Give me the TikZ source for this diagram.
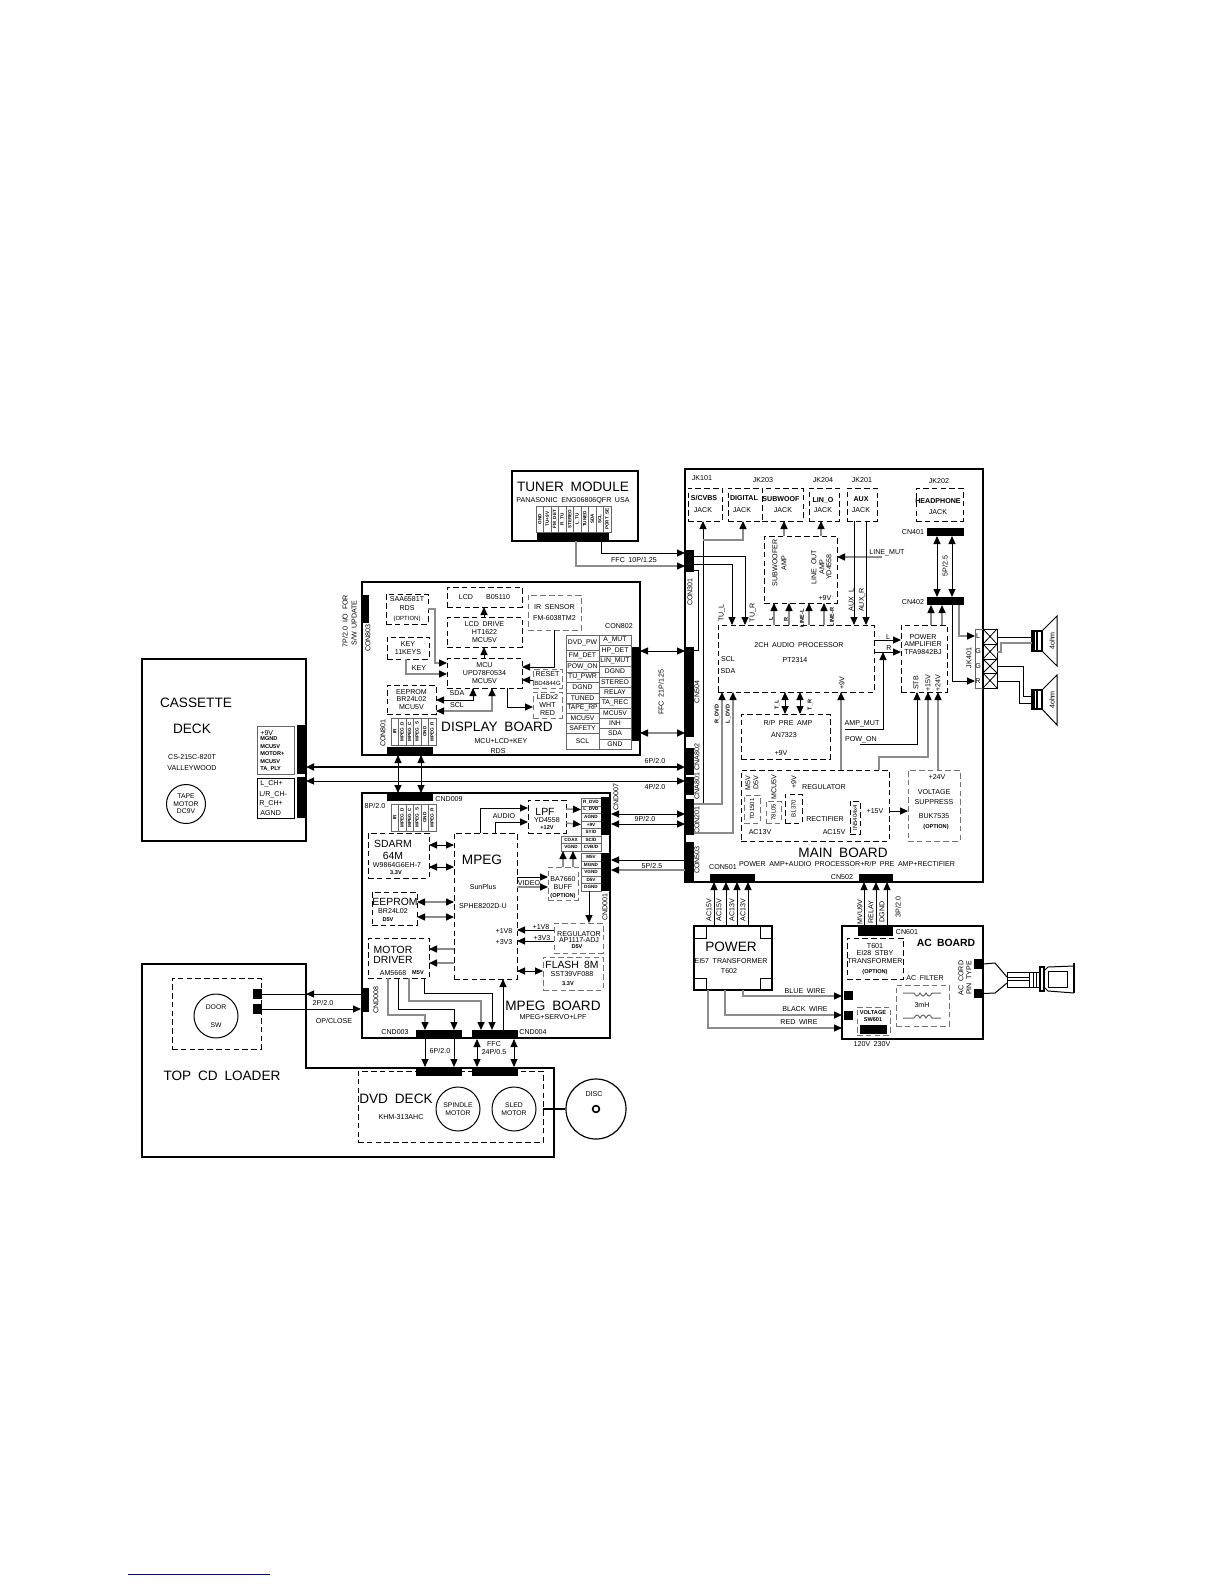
\documentclass[tikz,border=0pt]{standalone}
\usepackage{fontspec}
\setmainfont[WordSpace=1.8]{Liberation Sans}
\usetikzlibrary{arrows.meta,calc}
\newcommand{\vt}[1]{\rotatebox{90}{#1}}
\begin{document}
\begin{tikzpicture}[
  x=0.5pt, y=-0.5pt, >={Triangle[length=4pt,width=3.5pt,color=black]},
  area/.style args={#1,#2,#3,#4}{at={({(#1+#3)/2},{(#2+#4)/2})}, minimum width={(#3-#1)*0.5pt}, minimum height={(#4-#2)*0.5pt}, inner sep=0pt, outer sep=0pt},
  brd/.style={draw, line width=0.8pt},
  db/.style={draw, dashed, dash pattern=on 2.8pt off 1.6pt, line width=0.45pt, align=center, font=\fontsize{3.55}{3.8}\selectfont},
  gb/.style={db, draw=black!55},
  bar/.style={fill=black, draw=none},
  cell/.style={draw=black!60, line width=0.5pt, font=\fontsize{3.4}{3.5}\selectfont},
  pin/.style={cell, font=\fontsize{2.3}{2.3}\bfseries\selectfont},
  wire/.style={line width=0.5pt},
  gw/.style={line width=0.75pt, draw=black!45},
  bus/.style={line width=1pt},
  t/.style={inner sep=0pt, align=center, font=\fontsize{3.55}{3.8}\selectfont},
  ts/.style={inner sep=0pt, align=center, font=\fontsize{2.8}{3}\bfseries\selectfont},
  tm/.style={inner sep=0pt, align=center, font=\fontsize{5.2}{6}\selectfont},
  tl/.style={inner sep=0pt, align=center, font=\fontsize{6.8}{8}\selectfont},
  vt/.style={rotate=90},
  motor/.style={draw, circle, line width=0.5pt, inner sep=0pt, align=center, font=\fontsize{3.4}{3.8}\selectfont},
]
\useasboundingbox (0,0) rectangle (1224,1584);
\draw[blue!70!black, line width=0.5pt] (128,1574) -- (270,1574);
% boards
\node[brd, area={142,659,306,841}] (cassette) {};
\node[brd, area={362,582,640,755}] (display) {};
\node[brd, area={362,793,610,1038}] (mpegbd) {};
\node[brd, line width=1pt, area={512,471,638,541}] (tuner) {};
\node[brd, area={685,469,983,882}] (mainbd) {};
\node[brd, area={694,926,772,990}] (power) {};
\node[brd, area={842,926,983,1039}] (acbd) {};
\draw[brd] (142,964) -- (306,964) -- (306,1068) -- (554,1068) -- (554,1157) -- (142,1157) -- cycle;
\draw[line width=1.2pt] (mainbd.north west) -- (mainbd.north east);
% cassette deck
\node[tl] (lcass) at (196,703) {CASSETTE};
\node[tl] (ldeck) at (192,729) {DECK};
\node[t] (lcs) at (192,757) {CS-215C-820T};
\node[t] (lvw) at (192,768) {VALLEYWOOD};
\node[motor, minimum size=19.5pt] (tape) at (186,804) {TAPE\\MOTOR\\DC9V};
\node[bar, area={297,725,306,774}] (cassa) {};
\node[bar, area={297,777,306,818}] (cassb) {};
\node[draw=black!60, line width=0.4pt, area={257,726,294,774}] (cassta) {};
\node[draw, line width=0.4pt, area={257,778,294,818}] (casstb) {};
\node[t, anchor=west] (la1) at (260,733) {+9V};
\node[ts, anchor=west] (la2) at (260,739) {MGND};
\node[ts, anchor=west] (la3) at (260,747) {MCU5V};
\node[ts, anchor=west] (la4) at (260,754) {MOTOR+};
\node[ts, anchor=west] (la5) at (260,762) {MCU5V};
\node[ts, anchor=west] (la6) at (260,769) {TA\_PLY};
\node[t, anchor=west] (lb1) at (260,784) {L\_CH+};
\node[t, anchor=west] (lb2) at (259,795) {L/R\_CH-};
\node[t, anchor=west] (lb3) at (259,804) {R\_CH+};
\node[t, anchor=west] (lb4) at (260,813) {AGND};
% display board
\node[bar, area={362,595,369,623}] (con803) {};
\node[t, vt] (lc803) at (368,638) {CON803};
\node[t, vt] (l7p) at (345,621) {7P/2.0 I/O FOR};
\node[t, vt] (lsw) at (354,623) {S/W UPDATE};
\node[db, area={447,587,522,607}] (lcd) {LCD\hspace{2.3mm}B05110};
\node[db, area={447,617,522,647}] (lcddrv) {LCD DRIVE\\HT1622\\MCU5V};
\node[db, area={447,658,522,688}] (mcu) {MCU\\UPD78F0534\\MCU5V};
\node[db, area={386,594,428,624}] (saa) {SAA6581T\\[1pt]RDS\\[1pt]{\fontsize{3}{3}\selectfont (OPTION)}};
\node[db, area={387,637,429,659}] (keyb) {KEY\\11KEYS};
\node[db, area={387,685,436,714}] (eeprom) {EEPROM\\BR24L02\\MCU5V};
\node[gb, area={528,595,581,630}] (irs) {IR SENSOR\\[2pt]FM-6038TM2};
\node[gb, area={533,669,562,688}] (reset) {RESET\\[1pt]{\fontsize{3}{3}\selectfont BD4844G}};
\node[gb, area={533,692,562,718}] (led) {LEDx2\\WHT\\RED};
\node[t] (lkey) at (419,668) {KEY};
\node[t] (lsda) at (457,693) {SDA};
\node[t] (lscl) at (457,705) {SCL};
\draw[wire,->] (lcddrv.north -| 484,0) -- (lcd.south -| 484,0);
\draw[wire,->] (mcu.north -| 484,0) -- (lcddrv.south -| 484,0);
\draw[gw,->] (saa.east) -- ++(7,0) |- (mcu.west |- 0,663);
\draw[gw,->] (keyb.south -| 406,0) |- (mcu.west |- 0,674);
\draw[wire,<->] (eeprom.east |- 0,700) -| (mcu.south -| 473,0);
\draw[gw,<->] (eeprom.east |- 0,711) -| (mcu.south -| 492,0);
\draw[wire,->] (mcu.south -| 507,0) |- (led.west |- 0,707);
\draw[wire,->] (irs.south -| 554,0) |- (mcu.east |- 0,667);
\draw[wire,->] (reset.west |- 0,680) -- (mcu.east |- 0,680);
\node[t] (lc802) at (619,626) {CON802};
\node[cell, area={566,635,599,650}] (p1) {DVD\_PW};
\node[cell, area={566,650,599,661}] (p2) {FM\_DET};
\node[cell, area={566,661,599,672}] (p3) {POW\_ON};
\node[cell, area={566,672,599,682}] (p4) {TU\_PWR};
\node[cell, area={566,682,599,693}] (p5) {DGND};
\node[cell, area={566,693,599,703}] (p6) {TUNED};
\node[cell, area={566,703,599,713}] (p7) {TAPE\_RP};
\node[cell, area={566,713,599,723}] (p8) {MCU5V};
\node[cell, area={566,723,599,733}] (p9) {SAFETY};
\node[cell, area={566,733,599,749}] (p10) {SCL};
\node[cell, area={599,635,631,645}] (q1) {A\_MUT};
\node[cell, area={599,645,631,656}] (q2) {HP\_DET};
\node[cell, area={599,656,631,666}] (q3) {LIN\_MUT};
\node[cell, area={599,666,631,677}] (q4) {DGND};
\node[cell, area={599,677,631,687}] (q5) {STEREO};
\node[cell, area={599,687,631,697}] (q6) {RELAY};
\node[cell, area={599,697,631,708}] (q7) {TA\_REC};
\node[cell, area={599,708,631,718}] (q8) {MCU5V};
\node[cell, area={599,718,631,728}] (q9) {INH};
\node[cell, area={599,728,631,739}] (q10) {SDA};
\node[cell, area={599,739,631,749}] (q11) {GND};
\node[bar, area={632,647,640,741}] (con802) {};
\node[t, vt] (lffc21) at (661,692) {FFC 21P/1.25};
\node[t, vt] (lc801) at (383,733) {CON801};
\node[pin, area={391,718,398.5,745}] (d1) {\vt{IR}};
\node[pin, area={398.5,718,406,745}] (d2) {\vt{MPEG\_D}};
\node[pin, area={406,718,413.5,745}] (d3) {\vt{MPEG\_C}};
\node[pin, area={413.5,718,421,745}] (d4) {\vt{MPEG\_S}};
\node[pin, area={421,718,428.5,745}] (d5) {\vt{GND}};
\node[pin, area={428.5,718,436,745}] (d6) {\vt{MPEG\_R}};
\node[bar, area={387,747,433,755}] (con801) {};
\node[tl] (ldisp) at (497,727) {DISPLAY BOARD};
\node[t] (lmcu) at (501,741) {MCU+LCD+KEY};
\node[t] (lrds) at (498,751) {RDS};
% mpeg board
\node[bar, area={387,793,433,801}] (cnd009) {};
\node[t] (lc009) at (449,799) {CND009};
\node[t] (l8p) at (375,806) {8P/2.0};
\node[pin, area={391,804,398.5,831}] (e1) {\vt{IR}};
\node[pin, area={398.5,804,406,831}] (e2) {\vt{MPEG\_D}};
\node[pin, area={406,804,413.5,831}] (e3) {\vt{MPEG\_C}};
\node[pin, area={413.5,804,421,831}] (e4) {\vt{MPEG\_S}};
\node[pin, area={421,804,428.5,831}] (e5) {\vt{GND}};
\node[pin, area={428.5,804,436,831}] (e6) {\vt{MPEG\_R}};
\draw[wire,<->] (con801.south -| 398,0) -- (cnd009.north -| 398,0);
\draw[wire,<->] (con801.south -| 421,0) -- (cnd009.north -| 421,0);
\node[db, area={368,833,429,878}] (sdarm) {};
\node[tm] (lsd1) at (393,844) {SDARM};
\node[tm] (lsd2) at (393,856) {64M};
\node[t] (lsd3) at (397,865) {W9864G6EH-7};
\node[ts] (lsd4) at (396,873) {3.3V};
\node[db, area={454,833,517,979}] (mpeg) {};
\node[tl] (lmpeg) at (482,860) {MPEG};
\node[t] (lsun) at (483,887) {SunPlus};
\node[t] (lsphe) at (483,906) {SPHE8202D-U};
\node[t] (l1v8) at (504,931) {+1V8};
\node[t] (l3v3) at (504,942) {+3V3};
\node[db, area={372,892,417,925}] (eepromb) {};
\node[tm] (lee1) at (395,902) {EEPROM};
\node[t] (lee2) at (393,911) {BR24L02};
\node[ts] (lee3) at (388,920) {D5V};
\node[db, area={368,938,429,978}] (motdrv) {};
\node[tm] (lmd1) at (393,950) {MOTOR};
\node[tm] (lmd2) at (393,960) {DRIVER};
\node[t] (lmd3) at (393,973) {AM5668};
\node[ts] (lmd4) at (418,973) {M5V};
\draw[wire,<->] (sdarm.east |- 0,845) -- (mpeg.west |- 0,845);
\draw[wire,<->] (sdarm.east |- 0,867) -- (mpeg.west |- 0,867);
\draw[gw,<->] (eepromb.east |- 0,902) -- (mpeg.west |- 0,902);
\draw[gw,<->] (eepromb.east |- 0,917) -- (mpeg.west |- 0,917);
\draw[gw,->] (mpeg.west |- 0,949) -- (motdrv.east |- 0,949);
\draw[gw,->] (mpeg.west |- 0,963) -- (motdrv.east |- 0,963);
\node[db, area={528,800,566,833}] (lpf) {};
\node[tm] (llpf) at (545,812) {LPF};
\node[t] (lyd) at (547,820) {YD4558};
\node[ts] (l12v) at (547,828) {+12V};
\node[t] (laudio) at (504,816) {AUDIO};
\draw[wire,->] (mpeg.north -| 480,0) |- (lpf.west |- 0,808);
\draw[wire,->] (mpeg.north -| 495,0) |- (lpf.west |- 0,822);
\node[pin, area={581,798,601,806}] (g1) {R\_DVD};
\node[pin, area={581,806,601,813}] (g2) {L\_DVD};
\node[pin, area={581,813,601,821}] (g3) {AGND};
\node[pin, area={581,821,601,828}] (g4) {+9V};
\node[pin, area={581,828,601,836}] (g5) {SY/D};
\node[pin, area={581,836,601,843}] (g6) {SC/D};
\node[pin, area={581,843,601,851}] (g7) {CVB/D};
\node[pin, area={561,836,581,843}] (g8) {COAX};
\node[pin, area={561,843,581,851}] (g9) {VGND};
\node[bar, area={601,797,611,835}] (cnd007) {};
\node[t, vt] (lc007) at (616,797) {CND007};
\draw[gw,->] (lpf.east |- 0,809) -- (g2.west);
\draw[gw,->] (lpf.east |- 0,823) -- (g4.west);
\node[pin, area={581,853,601,861}] (h1) {M5V};
\node[pin, area={581,861,601,868}] (h2) {MGND};
\node[pin, area={581,868,601,876}] (h3) {VGND};
\node[pin, area={581,876,601,883}] (h4) {D5V};
\node[pin, area={581,883,601,891}] (h5) {DGND};
\node[bar, area={601,853,611,891}] (cnd001) {};
\node[t, vt] (lc001) at (605,907) {CND001};
\node[gb, area={548,867,578,900}] (ba) {};
\node[t] (lba1) at (563,879) {BA7660};
\node[t] (lba2) at (563,887) {BUFF};
\node[ts] (lba3) at (563,896) {(OPTION)};
\draw[gw,->] (ba.north -| 563,0) -- (g9.south -| 563,0);
\draw[gw,->] (ba.north -| 573,0) -- (g9.south -| 573,0);
\draw[wire,->] (mpeg.east |- 0,877) -- (ba.west |- 0,877);
\draw[gw,->] (mpeg.east |- 0,887) -- (ba.west |- 0,887);
\node[t] (lvideo) at (529,883) {VIDEO};
\node[gb, area={554,923,603,953}] (reg) {};
\node[t] (lre1) at (579,934) {REGULATOR};
\node[t] (lre2) at (579,940) {AP1117-ADJ};
\node[ts] (lre3) at (577,947) {D5V};
\draw[wire,->] (h5.south -| 589,0) -- (reg.north -| 589,0);
\draw[wire,->] (reg.west |- 0,930) -- (mpeg.east |- 0,930);
\draw[wire,->] (reg.west |- 0,941) -- (mpeg.east |- 0,941);
\node[t] (lv18) at (541,927) {+1V8};
\node[t] (lv33) at (542,938) {+3V3};
\node[gb, area={543,957,603,990}] (flash) {};
\node[tm] (lfl1) at (572,965) {FLASH 8M};
\node[t] (lfl2) at (572,974) {SST39VF088};
\node[ts] (lfl3) at (568,984) {3.3V};
\draw[wire,<->] (mpeg.east |- 0,971) -- (flash.west |- 0,971);
\node[bar, area={416,1030,462,1039}] (cnd003) {};
\node[bar, area={472,1030,518,1039}] (cnd004) {};
\node[t] (lc003) at (395,1032) {CND003};
\node[t] (lc004) at (533,1032) {CND004};
\draw[gw,->] (motdrv.south -| 388,0) |- (425,1015) -- (cnd003.north -| 425,0);
\draw[wire,->] (motdrv.south -| 398,0) |- (454,1009) -- (cnd003.north -| 454,0);
\draw[gw,->] (motdrv.south -| 409,0) |- (481,1001) -- (cnd004.north -| 481,0);
\draw[wire,->] (motdrv.south -| 424,0) |- (492,993) -- (cnd004.north -| 492,0);
\draw[wire,->] (cnd004.north -| 503,0) -- (mpeg.south -| 503,0);
\node[tl] (lmpb) at (553,1006) {MPEG BOARD};
\node[t] (lmps) at (553,1017) {MPEG+SERVO+LPF};
\node[bar, area={361,988,369,1012}] (cnd008) {};
\node[t, vt] (lc008) at (376,1000) {CND008};
% top cd loader
\node[db, area={172,978,261,1049}] (door) {};
\node[motor, minimum size=22pt] (doorsw) at (216,1016) {DOOR\\[5pt]SW};
\node[bar, area={253,989,262,999}] (dsa) {};
\node[bar, area={253,1004,262,1014}] (dsb) {};
\draw[wire,->] (cnd008.west |- dsa.east) -- (cassette.east |- dsa.east);
\draw[wire] (cassette.east |- dsa.east) -- (dsa.east);
\draw[wire,->] (dsb.east) -- (cnd008.west |- dsb.east);
\node[t] (l2p) at (323,1003) {2P/2.0};
\node[t] (lop) at (334,1021) {OP/CLOSE};
\node[tl] (ltop) at (222,1076) {TOP CD LOADER};
\node[db, area={358,1071,543,1142}] (dvd) {};
\node[bar, area={416,1067,462,1076}] (cda) {};
\node[bar, area={472,1067,518,1076}] (cdb) {};
\node[tl] (ldvd) at (396,1099) {DVD DECK};
\node[t] (lkhm) at (401,1117) {KHM-313AHC};
\node[motor, minimum size=22pt] (spindle) at (458,1109) {SPINDLE\\MOTOR};
\node[motor, minimum size=22pt] (sled) at (514,1109) {SLED\\MOTOR};
\node[draw, circle, line width=0.6pt, inner sep=0pt, minimum size=30pt] (disc) at (596,1109) {};
\node[draw, circle, line width=0.8pt, inner sep=0pt, minimum size=3.4pt] (hole) at (596,1109) {};
\node[t] (ldisc) at (594,1094) {DISC};
\draw[wire, line width=0.7pt] (dvd.east |- disc.west) -- (disc.west);
\draw[wire,->] (cnd003.south -| 425,0) -- (cda.north -| 425,0);
\draw[wire,->] (cnd003.south -| 454,0) -- (cda.north -| 454,0);
\draw[wire,<->] (cnd004.south -| 477,0) -- (cdb.north -| 477,0);
\draw[wire,<->] (cnd004.south -| 514,0) -- (cdb.north -| 514,0);
\node[t] (l6p) at (440,1051) {6P/2.0};
\node[t] (lffc) at (494,1044) {FFC};
\node[t] (l24p) at (494,1052) {24P/0.5};
% tuner
\node[tl] (ltun) at (573,487) {TUNER MODULE};
\node[t] (lpan) at (573,501) {PANASONIC ENG06806QFR USA};
\node[pin, area={536,506,543.5,532}] (u1) {\vt{GND}};
\node[pin, area={543.5,506,551,532}] (u2) {\vt{TU+9V}};
\node[pin, area={551,506,558.5,532}] (u3) {\vt{FM\_DET}};
\node[pin, area={558.5,506,566,532}] (u4) {\vt{R\_TU}};
\node[pin, area={566,506,573.5,532}] (u5) {\vt{STEREO}};
\node[pin, area={573.5,506,581,532}] (u6) {\vt{L\_TU}};
\node[pin, area={581,506,588.5,532}] (u7) {\vt{TUNED}};
\node[pin, area={588.5,506,596,532}] (u8) {\vt{SDA}};
\node[pin, area={596,506,603.5,532}] (u9) {\vt{SCL}};
\node[pin, area={603.5,506,611,532}] (u10) {\vt{PORT\_SE}};
\node[bar, area={537,533,609,541}] (tunbar) {};
\node[t] (lffc10) at (634,560) {FFC 10P/1.25};
% main board connectors
\node[bar, area={685,550,694,572}] (con301) {};
\node[bar, area={685,647,694,737}] (cn504) {};
\node[bar, area={685,748,694,775}] (cna802) {};
\node[bar, area={685,777,694,795}] (cna801) {};
\node[bar, area={685,799,694,835}] (con201) {};
\node[bar, area={685,842,694,881}] (con503) {};
\draw[wire] (con301.east |- 0,570) -- ++(4,0) |- (cn504.east |- 0,650);
\node[t, vt] (lc301) at (690,592) {CON301};
\node[t, vt] (lc504) at (697,692) {CN504};
\node[t, vt] (lc802b) at (697,757) {CNA802};
\node[t, vt] (lc801b) at (697,786) {CNA801};
\node[t, vt] (lc201) at (697,820) {CON201};
\node[t, vt] (lc503) at (697,860) {CON503};
\draw[wire,->] (tunbar.south -| 601,0) |- (con301.west |- 0,553);
\draw[gw,->] (tunbar.south -| 576,0) |- (con301.west |- 0,566);
\draw[wire,<->] (con802.east |- 0,651) -- (cn504.west |- 0,651);
\draw[gw,<->] (con802.east |- 0,733) -- (cn504.west |- 0,733);
\draw[bus,<->] (cassa.east |- 0,767) -- (cna802.west |- 0,767);
\draw[wire,<->] (cassb.east |- 0,781) -- (cna801.west |- 0,781);
\node[t] (l6p2) at (655,761) {6P/2.0};
\node[t] (l4p2) at (655,787) {4P/2.0};
\draw[wire,<->] (cnd007.east |- 0,814) -- (con201.west |- 0,814);
\draw[wire,<->] (cnd007.east |- 0,824) -- (con201.west |- 0,824);
\draw[wire,<-] (cnd001.east |- 0,860) -- (con503.west |- 0,860);
\draw[gw,<-] (cnd001.east |- 0,870) -- (con503.west |- 0,870);
\node[t] (l9p) at (645,819) {9P/2.0};
\node[t] (l5p) at (652,866) {5P/2.5};
% jacks
\node[db, area={688,488,722,521}] (jcvbs) {};
\node[t] (lj1a) at (702,478) {JK101};
\node[t] (lj1b) at (704,498) {\textbf{S/CVBS}};
\node[t] (lj1c) at (703,510) {JACK};
\node[db, area={728,488,762,521}] (jdig) {};
\node[t] (lj2b) at (744,498) {\textbf{DIGITAL}};
\node[t] (lj2c) at (742,510) {JACK};
\node[t] (lj3a) at (763,480) {JK203};
\node[db, area={762,488,803,521}] (jsub) {};
\node[t] (lj3b) at (781,499) {\textbf{SUBWOOF}};
\node[t] (lj3c) at (783,510) {JACK};
\node[db, area={809,488,839,521}] (jlin) {};
\node[t] (lj4a) at (823,480) {JK204};
\node[t] (lj4b) at (823,500) {\textbf{LIN\_O}};
\node[t] (lj4c) at (823,510) {JACK};
\node[db, area={847,488,877,521}] (jaux) {};
\node[t] (lj5a) at (862,480) {JK201};
\node[t] (lj5b) at (861,499) {\textbf{AUX}};
\node[t] (lj5c) at (861,510) {JACK};
\node[db, area={916,488,963,521}] (jhead) {};
\node[t] (lj6a) at (939,481) {JK202};
\node[t] (lj6b) at (938,501) {\textbf{HEADPHONE}};
\node[t] (lj6c) at (938,512) {JACK};
\node[bar, area={927,528,964,536}] (cn401) {};
\node[bar, area={927,597,964,605}] (cn402) {};
\node[t] (lcn401) at (913,532) {CN401};
\node[t] (lcn402) at (913,602) {CN402};
\node[t, vt] (l5p25) at (945,566) {5P/2.5};
\draw[wire,<->] (cn401.south -| 937,0) -- (cn402.north -| 937,0);
\draw[wire,<->] (cn401.south -| 952,0) -- (cn402.north -| 952,0);
\draw[wire,->] (con201.east |- 0,804) -| (jcvbs.south -| 703,0);
\coordinate (digtap) at (703,540);
\draw[gw,->] (digtap) -| (jdig.south -| 743,0);
\node[db, area={764,536,837,603}] (subamp) {};
\node[t, vt] (lsa1) at (775,563) {SUBWOOFER};
\node[t, vt] (lsa2) at (784,563) {AMP};
\node[t, vt] (lsa3) at (814,567) {LINE OUT};
\node[t, vt] (lsa4) at (822,567) {AMP};
\node[t, vt] (lsa5) at (829,567) {YD4558};
\node[t] (lsa6) at (825,598) {+9V};
\draw[gw,->] (subamp.north -| 784,0) -- (jsub.south -| 784,0);
\draw[gw,->] (subamp.north -| 821,0) -- (jlin.south -| 821,0);
\coordinate (mutin) at (882,557);
\draw[gw,->] (mutin) -- (subamp.east |- mutin);
\node[t, anchor=west] (llm) at (869,553) {LINE\_MUT};
\node[db, area={718,625,874,692}] (audio) {};
\node[t] (lau1) at (799,645) {2CH AUDIO PROCESSOR};
\node[t] (lau2) at (795,660) {PT2314};
\node[t] (lau3) at (728,659) {SCL};
\node[t] (lau4) at (728,671) {SDA};
\node[t, vt] (lau5) at (842,683) {+9V};
\draw[wire,->] (con301.east |- 0,556) -| (audio.north -| 745,0);
\draw[wire,->] (con301.east |- 0,564) -| (audio.north -| 732,0);
\node[t, vt] (ltul) at (722,613) {TU\_L};
\node[t, vt] (ltur) at (753,613) {TU\_R};
\draw[wire,->] (jaux.south -| 854,0) -- (audio.north -| 854,0);
\draw[wire,->] (jaux.south -| 866,0) -- (audio.north -| 866,0);
\node[t, vt] (lauxl) at (852,600) {AUX\_L};
\node[t, vt] (lauxr) at (862,600) {AUX\_R};
\draw[gw,->] (audio.north -| 774,0) -- (subamp.south -| 774,0);
\draw[gw,->] (audio.north -| 789,0) -- (subamp.south -| 789,0);
\draw[gw,->] (audio.north -| 809,0) -- (subamp.south -| 809,0);
\draw[gw,->] (audio.north -| 824,0) -- (subamp.south -| 824,0);
\node[ts, vt] (ll1) at (771,619) {L};
\node[ts, vt] (ll2) at (786,619) {R};
\node[ts, vt] (ll3) at (802,618) {LINE-L};
\node[ts, vt] (ll4) at (832,617) {LINE-R};
\node[db, area={901,625,947,692}] (pamp) {};
\node[t] (lpa1) at (923,637) {POWER};
\node[t] (lpa2) at (923,644) {AMPLIFIER};
\node[t] (lpa3) at (923,652) {TFA9842BJ};
\node[t, vt] (lpa4) at (916,683) {STB};
\node[t, vt] (lpa5) at (928,683) {+15V};
\node[t, vt] (lpa6) at (938,683) {+24V};
\draw[wire,->] (audio.east |- 0,640) -- (pamp.west |- 0,640);
\draw[wire,->] (audio.east |- 0,652) -- (pamp.west |- 0,652);
\node[t] (lpl) at (888,637) {L};
\node[t] (lpr) at (889,648) {R};
\draw[gw,->] (pamp.north -| 931,0) -- (cn402.south -| 931,0);
\draw[gw,->] (pamp.north -| 942,0) -- (cn402.south -| 942,0);
% jk401 and speakers
\node[draw=black!60, line width=0.5pt, area={975,629,997,688}] (jk401) {};
\node[draw, line width=0.4pt, area={983,629,997,644}] (xa) {};
\node[draw, line width=0.4pt, area={983,644,997,659}] (xb) {};
\node[draw, line width=0.4pt, area={983,659,997,673}] (xc) {};
\node[draw, line width=0.4pt, area={983,673,997,688}] (xd) {};
\draw[line width=0.4pt] (xa.north west) -- (xa.south east) (xa.north east) -- (xa.south west) (xb.north west) -- (xb.south east) (xb.north east) -- (xb.south west);
\draw[line width=0.4pt] (xc.north west) -- (xc.south east) (xc.north east) -- (xc.south west) (xd.north west) -- (xd.south east) (xd.north east) -- (xd.south west);
\node[t] (lxl) at (978,636) {L};
\node[t] (lxg) at (978,651) {G};
\node[t] (lxh) at (978,666) {G};
\node[t] (lxr) at (978,681) {R};
\node[t, vt] (ljk401) at (969,658) {JK401};
\draw[gw,->] (cn402.south -| 959,0) |- (jk401.west |- 0,636);
\draw[wire,->] (cn402.south -| 952,0) |- (jk401.west |- 0,681);
\draw[line width=0.5pt] (1042,631) -- (1057,616) -- (1057,666) -- (1042,651) -- cycle;
\draw[line width=0.5pt] (1042,690) -- (1057,675) -- (1057,725) -- (1042,709) -- cycle;
\node[draw, line width=0.6pt, area={1032,631,1042,651}] (spka) {};
\node[draw, line width=0.6pt, area={1032,690,1042,709}] (spkb) {};
\draw[line width=1.2pt] (1034,631) -- (1034,651) (1037,631) -- (1037,651) (1034,690) -- (1034,709) (1037,690) -- (1037,709);
\node[t, vt] (lohma) at (1052,641) {4ohm};
\node[t, vt] (lohmb) at (1052,700) {4ohm};
\draw[wire] (xa.east |- 0,637) -- (spka.west |- 0,637);
\draw[gw] (xb.east |- 0,652) -- ++(4,0) |- (spka.west |- 0,643);
\draw[wire] (xc.east |- 0,666) -| (1023,696) -- (spkb.west |- 0,696);
\draw[wire] (xd.east |- 0,681) -| (1019,703) -- (spkb.west |- 0,703);
% main board lower part
\node[db, area={741,714,830,759}] (rppre) {};
\node[t] (lrp1) at (788,723) {R/P PRE AMP};
\node[t] (lrp2) at (784,735) {AN7323};
\node[t] (lrp3) at (781,753) {+9V};
\draw[wire,<->] (audio.south -| 785,0) -- (rppre.north -| 785,0);
\draw[wire,<->] (audio.south -| 800,0) -- (rppre.north -| 800,0);
\node[ts, vt] (ltl) at (777,705) {T\_L};
\node[ts, vt] (ltr) at (810,705) {T\_R};
\draw[gw,->] (con201.east |- 0,804) -| (audio.south -| 722,0);
\draw[gw,->] (con201.east |- 0,833) -| (audio.south -| 733,0);
\node[ts, vt] (lrdvd) at (717,714) {R\_DVD};
\node[ts, vt] (lldvd) at (728,714) {L\_DVD};
\node[db, area={741,770,889,841}] (regu) {};
\node[t] (lrg1) at (824,787) {REGULATOR};
\node[t] (lrg2) at (825,819) {RECTIFIER};
\node[t] (lrg3) at (760,832) {AC13V};
\node[t] (lrg4) at (834,832) {AC15V};
\node[t] (lrg5) at (875,811) {+15V};
\node[gb, area={744,795,760,823}] (td) {\vt{\fontsize{3}{3}\selectfont TD1501}};
\node[gb, area={766,801,781,823}] (l05) {\vt{\fontsize{3}{3}\selectfont 78L05}};
\node[db, area={785,794,802,823}] (b1370) {\vt{\fontsize{3}{3}\selectfont B1370}};
\node[db, area={850,801,860,834}] (in54) {\vt{\fontsize{3}{3}\selectfont IN5404x4}};
\node[t, vt] (lm5) at (748,783) {M5V};
\node[t, vt] (ld5) at (756,783) {D5V};
\node[t, vt] (lm5v) at (774,787) {MCU5V};
\node[t, vt] (l9v) at (794,782) {+9V};
\node[gb, area={908,770,960,841}] (volt) {};
\node[t] (lvs1) at (937,777) {+24V};
\node[t] (lvs2) at (934,792) {VOLTAGE};
\node[t] (lvs3) at (934,802) {SUPPRESS};
\node[t] (lvs4) at (934,816) {BUK7535};
\node[ts] (lvs5) at (936,827) {(OPTION)};
\draw[wire,->] (regu.east |- 0,811) -- (volt.west |- 0,811);
\draw[gw,->] (regu.north -| 841,0) -- (audio.south -| 841,0);
\draw[gw,->] (volt.north -| 938,0) -- (pamp.south -| 938,0);
\draw[gw,->] (regu.north -| 879,0) |- (928,757) -- (pamp.south -| 928,0);
\coordinate (powon) at (860,744);
\coordinate (ampmut) at (845,729);
\coordinate (rtap) at (883,652);
\draw[wire,->] (powon) -| (pamp.south -| 917,0);
\draw[wire,->] (ampmut) -| (rtap);
\node[t] (lamp) at (862,724) {AMP\_MUT};
\node[t] (lpow) at (861,740) {POW\_ON};
\node[tl] (lmain) at (843,853) {MAIN BOARD};
\node[t] (lmain2) at (847,864) {POWER AMP+AUDIO PROCESSOR+R/P PRE AMP+RECTIFIER};
\node[bar, area={710,874,755,882}] (con501) {};
\node[bar, area={859,874,893,882}] (cn502) {};
\node[t] (lcn501) at (723,867) {CON501};
\node[t] (lcn502) at (842,877) {CN502};
% power and ac board
\draw[line width=0.5pt] (694,938) -- (706,938) -- (706,926) (760,926) -- (760,938) -- (772,938) (694,978) -- (706,978) -- (706,990) (760,990) -- (760,978) -- (772,978);
\node[tl] (lpow1) at (731,947) {POWER};
\node[t] (lpow2) at (731,961) {EI57 TRANSFORMER};
\node[t] (lpow3) at (729,971) {T602};
\draw[wire,->] (power.north -| 714,0) -- (con501.south -| 714,0);
\draw[wire,->] (power.north -| 726,0) -- (con501.south -| 726,0);
\draw[wire,->] (power.north -| 737,0) -- (con501.south -| 737,0);
\draw[wire,->] (power.north -| 748,0) -- (con501.south -| 748,0);
\node[t, vt] (lac1) at (709,910) {AC15V};
\node[t, vt] (lac2) at (719,910) {AC15V};
\node[t, vt] (lac3) at (732,910) {AC13V};
\node[t, vt] (lac4) at (743,910) {AC13V};
\node[bar, area={858,926,893,936}] (cn601) {};
\node[t] (lcn601) at (907,932) {CN601};
\draw[wire,->] (cn601.north -| 864,0) -- (cn502.south -| 864,0);
\draw[wire,->] (cn601.north -| 876,0) -- (cn502.south -| 876,0);
\draw[wire,->] (cn601.north -| 887,0) -- (cn502.south -| 887,0);
\node[t, vt] (lmv) at (860,912) {MVU9V};
\node[t, vt] (lrel) at (871,912) {RELAY};
\node[t, vt] (ldg) at (882,912) {DGND};
\node[t, vt] (l3p) at (898,907) {3P/2.0};
\node[tm] (lacb) at (946,943) {\textbf{AC BOARD}};
\node[db, area={847,938,903,979}] (t601) {};
\node[t] (lt1) at (875,946) {T601};
\node[t] (lt2) at (875,953) {EI28 STBY};
\node[t] (lt3) at (875,961) {TRANSFORMER};
\node[ts] (lt4) at (875,972) {(OPTION)};
\node[t] (lacf) at (925,978) {AC FILTER};
\node[gb, area={896,985,949,1026}] (filt) {};
\node[t] (l3mh) at (922,1005) {3mH};
\draw[wire, draw=black!60] (903,993) -- (914,993) sin ++(3,3) cos ++(3,-3) sin ++(3,3) cos ++(3,-3) sin ++(3,3) cos ++(3,-3) -- (941,993);
\draw[wire, draw=black!60] (903,1018) -- (914,1018) sin ++(3,-3) cos ++(3,3) sin ++(3,-3) cos ++(3,3) sin ++(3,-3) cos ++(3,3) -- (941,1018);
\node[bar, area={844,991,853,1000}] (sqa) {};
\node[bar, area={844,1011,853,1020}] (sqb) {};
\draw[gw,->] (power.south -| 743,0) |- (acbd.west |- 0,996);
\draw[gw,->] (power.south -| 725,0) |- (acbd.west |- 0,1015);
\draw[gw,->] (power.south -| 708,0) |- (acbd.west |- 0,1028);
\node[t] (lblue) at (805,991) {BLUE WIRE};
\node[t] (lblack) at (805,1009) {BLACK WIRE};
\node[t] (lred) at (799,1022) {RED WIRE};
\node[gb, area={857,1007,890,1035}] (sw601) {};
\node[ts] (lsw1) at (873,1013) {VOLTAGE};
\node[ts] (lsw2) at (873,1020) {SW601};
\node[bar, area={860,1025,887,1034}] (swbar) {};
\node[t] (l120) at (862,1044) {120V};
\node[t] (l230) at (882,1044) {230V};
\node[bar, area={974,959,983,969}] (acp1) {};
\node[bar, area={974,989,983,998}] (acp2) {};
\node[t, vt] (lcord) at (961,978) {AC CORD};
\node[t, vt] (lpin) at (969,978) {PIN TYPE};
\draw[line width=0.5pt] (acp1.east) -- (995,963) -- (1007,977);
\draw[line width=0.5pt] (acp2.east) -- (995,993) -- (1007,983);
\node[draw, line width=0.5pt, area={1007,972,1029,987}] (plugA) {};
\draw[line width=0.5pt] (1007,977) -- (1029,977) (1007,980) -- (1029,980);
\draw[line width=0.5pt] (plugA.north east) -- (1040,972) (plugA.south east) -- (1040,987) (1033,972) -- (1033,987) (1036,972) -- (1036,987);
\node[draw, line width=0.7pt, area={1040,967,1044,991}] (plugB) {};
\draw[line width=0.5pt] (1044,971) -- (1048,967) -- (1074,966) (1044,987) -- (1048,991) -- (1074,993);
\node[draw, line width=0.5pt, area={1048,971,1067,987}] (plugC) {};
\draw[line width=1pt] (1074,963) -- (1074,993);
\end{tikzpicture}
\end{document}
